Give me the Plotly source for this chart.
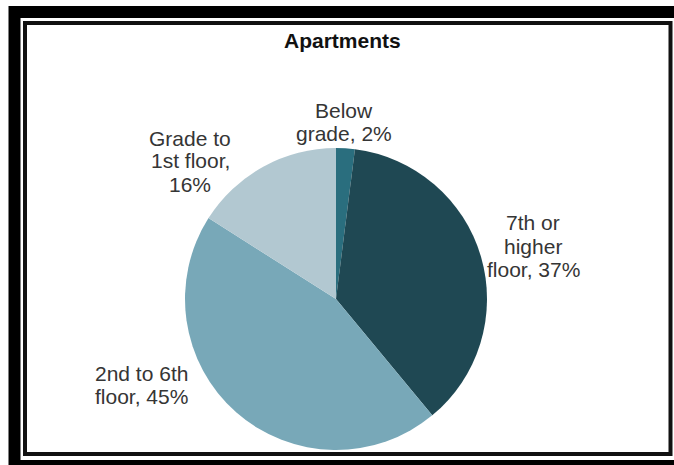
import plotly.graph_objects as go

# data
categories = ["Below grade", "7th or higher floor", "2nd to 6th floor", "Grade to 1st floor"]
shares = [2, 37, 45, 16]
colors = ["#2a6e7e", "#1f4853", "#78a8b8", "#b2c8d1"]
# how many words go on each line of a label
wraps = [[1, 2], [2, 1, 2], [3, 2], [2, 2, 1]]
title = "Apartments"

W, H = 674, 465


def fx(x):
    return x / W


def fy(y):
    return 1 - y / H


cx, cy, r = 336, 299, 151

fig = go.Figure(go.Pie(
    labels=categories,
    values=shares,
    marker=dict(colors=colors, line=dict(width=0)),
    sort=False,
    direction="clockwise",
    rotation=0,
    textinfo="none",
    hoverinfo="skip",
    showlegend=False,
    domain=dict(x=[fx(cx - r), fx(cx + r)], y=[fy(cy + r), fy(cy - r)]),
))

# label positions (center x, first line y), line step
label_pos = [(344, 110), (533, 223), (141, 373), (190, 138)]
step = 23
font = dict(family="Liberation Sans, Arial, sans-serif", size=21, color="#353535")

for name, v, wrap, (lx, ly) in zip(categories, shares, wraps, label_pos):
    words = f"{name}, {v}%".split()
    i = 0
    for k, n in enumerate(wrap):
        line = " ".join(words[i:i + n])
        i += n
        fig.add_annotation(
            x=fx(lx), y=fy(ly + k * step), xref="paper", yref="paper",
            text=line, showarrow=False, xanchor="center", yanchor="middle",
            font=font,
        )

fig.add_annotation(
    x=fx(342), y=fy(40), xref="paper", yref="paper",
    text=f"<b>{title}</b>", showarrow=False, xanchor="center", yanchor="middle",
    font=dict(family="Liberation Sans, Arial, sans-serif", size=21, color="#111111"),
)

# double frame
fig.add_shape(type="rect", xref="paper", yref="paper",
              x0=fx(14.5), y0=fy(12), x1=fx(681), y1=fy(466),
              line=dict(color="black", width=12))
fig.add_shape(type="rect", xref="paper", yref="paper",
              x0=fx(25), y0=fy(23), x1=fx(670.5), y1=fy(454),
              line=dict(color="#111111", width=4))

fig.update_layout(
    width=W, height=H,
    margin=dict(l=0, r=0, t=0, b=0),
    paper_bgcolor="white",
    plot_bgcolor="white",
)

fig.write_html("out.html", config={"displayModeBar": False},
               post_script="document.body.style.margin='0';")
